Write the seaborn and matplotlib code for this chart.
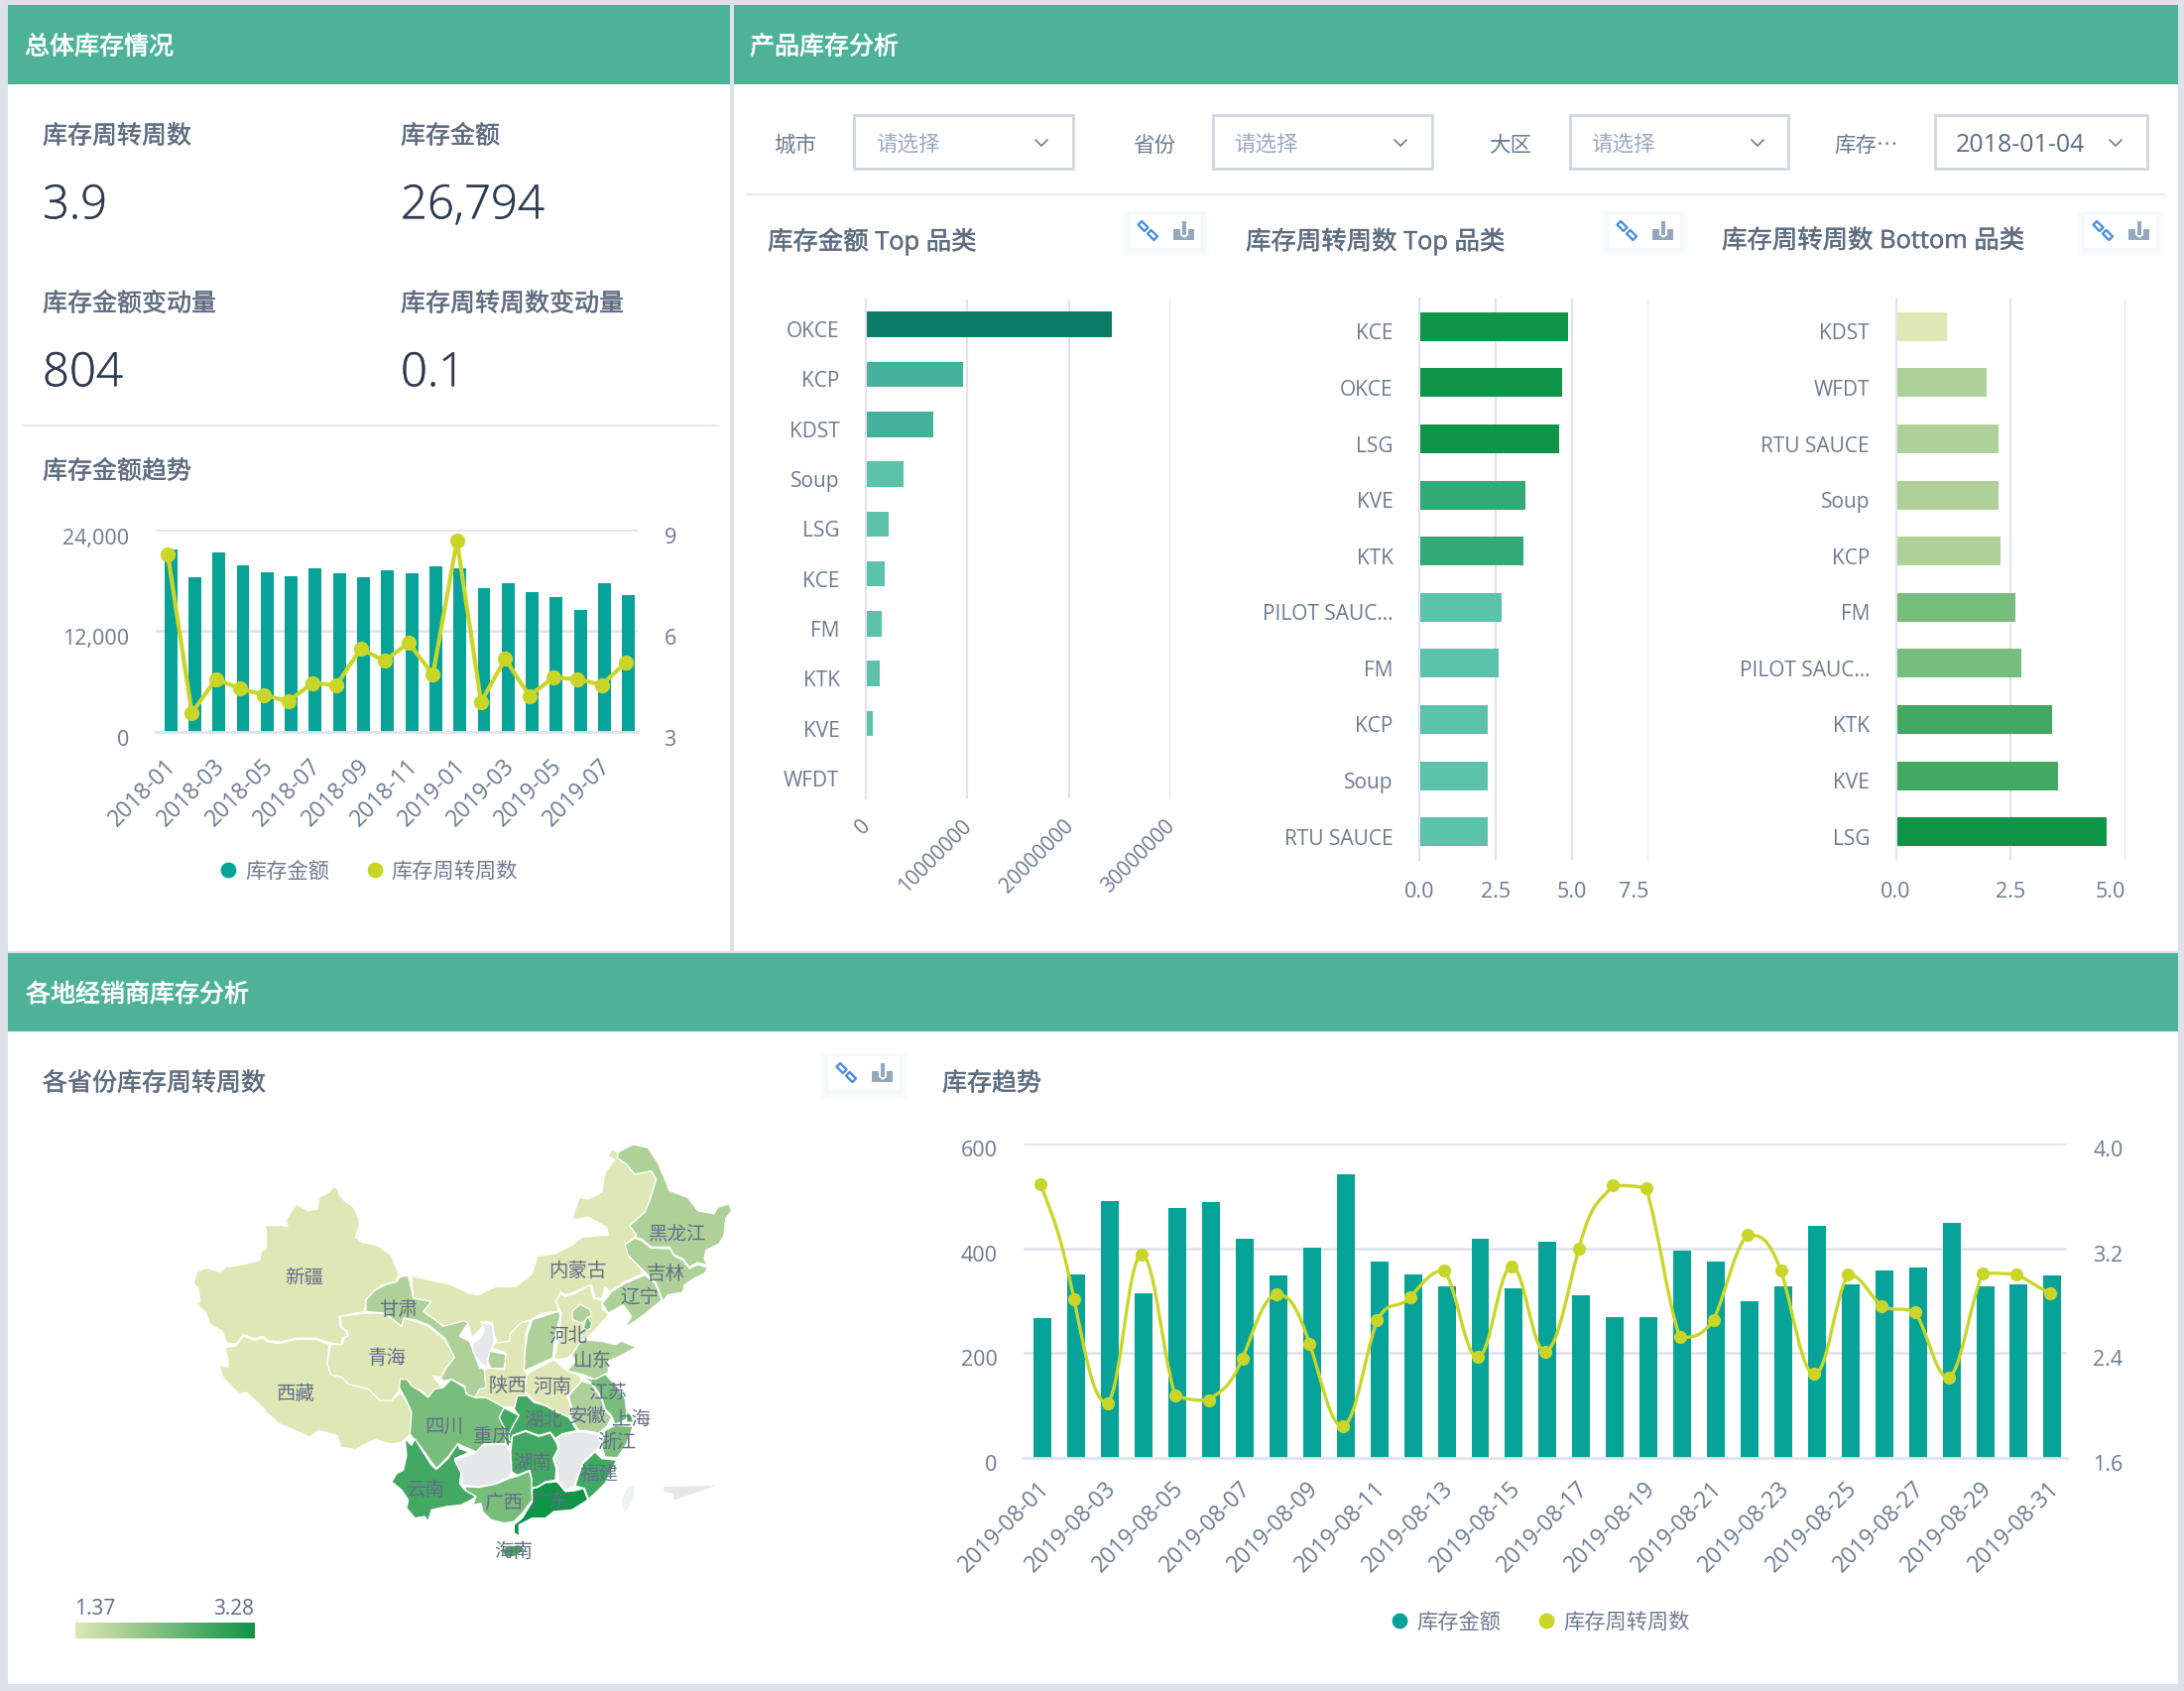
import numpy as np
import pandas as pd
import seaborn as sns
import matplotlib
matplotlib.use("Agg")
import matplotlib.pyplot as plt
import matplotlib.patheffects as pe
from matplotlib.patches import Rectangle, Polygon, PathPatch
from matplotlib.path import Path
from matplotlib.transforms import Affine2D
from matplotlib.colors import LinearSegmentedColormap

# ---------------- data ----------------
KPI_LABELS = ["库存周转周数", "库存金额", "库存金额变动量", "库存周转周数变动量"]
KPI_VALUES = ["3.9", "26,794", "804", "0.1"]

MONTH_LABELS = ["2018-01","2018-02","2018-03","2018-04","2018-05","2018-06","2018-07","2018-08","2018-09","2018-10",
                "2018-11","2018-12","2019-01","2019-02","2019-03","2019-04","2019-05","2019-06","2019-07","2019-08"]
MONTH_AMOUNT = [21600,18360,21300,19800,19000,18500,19400,18800,18360,19200,
                18800,19600,19400,17060,17700,16630,16000,14500,17700,16200]
MONTH_WEEKS = [8.26,3.56,4.57,4.28,4.10,3.90,4.45,4.39,5.46,5.11,
               5.64,4.70,8.67,3.89,5.17,4.07,4.61,4.57,4.39,5.06]

TOP_AMOUNT_CATS = ["OKCE","KCP","KDST","Soup","LSG","KCE","FM","KTK","KVE","WFDT"]
TOP_AMOUNT_VALS = [24200000,9570000,6650000,3740000,2280000,1820000,1550000,1370000,730000,20000]
TOP_AMOUNT_COLORS = ["#0b7d66","#45b19a","#45b19a","#5bc2ab","#5bc2ab","#5bc2ab","#5bc2ab","#5bc2ab","#5bc2ab","#5bc2ab"]

TOP_WEEK_CATS = ["KCE","OKCE","LSG","KVE","KTK","PILOT SAUC...","FM","KCP","Soup","RTU SAUCE"]
TOP_WEEK_VALS = [4.88,4.67,4.58,3.48,3.42,2.70,2.60,2.24,2.24,2.24]
TOP_WEEK_COLORS = ["#0e9548","#0e9548","#0e9548","#31aa78","#31aa78","#5bc2ab","#5bc2ab","#5bc2ab","#5bc2ab","#5bc2ab"]

BOT_WEEK_CATS = ["KDST","WFDT","RTU SAUCE","Soup","KCP","FM","PILOT SAUC...","KTK","KVE","LSG"]
BOT_WEEK_VALS = [1.11,1.98,2.24,2.24,2.28,2.60,2.74,3.41,3.53,4.58]
BOT_WEEK_COLORS = ["#dfe7b6","#aed19a","#aed19a","#aed19a","#aed19a","#79bd7d","#79bd7d","#43a862","#43a862","#0e9548"]

DAY_LABELS = ["2019-08-%02d" % d for d in range(1, 32)]
DAY_AMOUNT = [266,351,490,314,477,488,419,348,402,541,375,351,327,419,323,413,310,269,269,395,
              375,300,327,442,331,357,364,449,327,331,348]
DAY_WEEKS = [3.69,2.81,2.02,3.15,2.08,2.04,2.36,2.85,2.47,1.84,2.65,2.83,3.03,2.37,3.06,2.41,3.20,3.68,3.66,2.52,
             2.65,3.30,3.03,2.24,3.00,2.76,2.71,2.21,3.01,3.00,2.86]

PROVINCES = ["内蒙古","新疆","西藏","青海","甘肃","四川","云南","贵州","重庆","湖北","湖南","江西","广西","广东","福建",
             "浙江","安徽","江苏","山东","河南","陕西","河北","山西","宁夏","陇东","北京","天津","黑龙江","吉林","辽宁","海南","上海"]
PROVINCE_WEEKS = [1.5,1.5,1.5,1.5,1.9,2.3,2.7,np.nan,2.7,2.7,2.7,np.nan,2.3,3.28,2.7,
                  2.3,1.9,2.3,1.9,1.5,1.5,1.5,1.9,np.nan,1.9,1.9,2.3,1.9,1.9,1.9,2.7,2.7]
MAP_MIN, MAP_MAX = 1.37, 3.28

# ---------------- palette / style ----------------
PAGE = "#dde1ea"; HEADER = "#4db298"; TITLE = "#5f6d81"; AXIS_TXT = "#6d7b90"; BIG = "#2f3a52"
GRID = "#e0e4ed"; TEAL = "#07a398"; OLIVE = "#c9d629"
MAP_BINS = ["#dfe7b6","#aed19a","#79bd7d","#43a862","#0e9548"]; MAP_NULL = "#e6e7ea"

sns.set_theme(style="white")
plt.rcParams["font.family"] = ["Open Sans", "Noto Sans CJK SC", "DejaVu Sans"]
plt.rcParams["axes.unicode_minus"] = False

W, H = 2202, 1706
fig = plt.figure(figsize=(W/100, H/100), dpi=100, facecolor=PAGE)
bg = fig.add_axes([0, 0, 1, 1], zorder=0)
bg.set_xlim(0, W); bg.set_ylim(H, 0); bg.axis("off")

def px_axes(x0, y0, x1, y1):
    ax = fig.add_axes([x0/W, 1-y1/H, (x1-x0)/W, (y1-y0)/H], zorder=2)
    ax.patch.set_alpha(0)
    return ax

def shift(labels, dx=0, dy=0):
    for l in labels:
        l.set_transform(l.get_transform() + Affine2D().translate(dx, dy))

def txt(x, y, s, size=15, color=AXIS_TXT, ha="left", va="center", weight="normal", z=5, stroke=0, family=None):
    t = bg.text(x-1, y+3, s, fontsize=size, color=color, ha=ha, va=va, fontweight=weight, zorder=z)
    if family:
        t.set_family(family)
    if stroke:
        t.set_path_effects([pe.withStroke(linewidth=stroke, foreground=color)])
    return t

# panels
for x0, y0, x1, y1 in [(8, 6, 736, 960), (740, 6, 2196, 960), (8, 962, 2196, 1699)]:
    bg.add_patch(Rectangle((x0, y0), x1-x0, y1-y0, fc="white", ec="none", zorder=1))
for x0, y0, x1, y1, s, tx in [(8, 6, 736, 86, "总体库存情况", 26), (740, 6, 2196, 86, "产品库存分析", 757),
                              (8, 962, 2196, 1041, "各地经销商库存分析", 27)]:
    bg.add_patch(Rectangle((x0, y0), x1-x0, y1-y0, fc=HEADER, ec="none", zorder=2))
    txt(tx, (y0+y1)/2, s, size=18, color="white", stroke=0.5)

# KPIs
for (lx, ly, vy), lab, val in zip([(44, 136, 206), (405, 136, 206), (44, 305, 375), (405, 305, 375)], KPI_LABELS, KPI_VALUES):
    txt(lx, ly, lab, size=18, color=TITLE, stroke=0.35)
    txt(lx, vy, val, size=34, color=BIG, weight="light", stroke=0.3)
bg.plot([23, 724], [430, 430], color="#e6e9f0", lw=1.5, zorder=2)
txt(44, 474, "库存金额趋势", size=18, color=TITLE, stroke=0.35)

def legend(x1, t1, x2, t2, y):
    bg.scatter([x1], [y], s=130, color=TEAL, zorder=5, linewidths=0)
    txt(t1, y-2, "库存金额", size=15.3)
    bg.scatter([x2], [y], s=130, color=OLIVE, zorder=5, linewidths=0)
    txt(t2, y-2, "库存周转周数", size=15.3)

def smooth_path(xs, ys, k=0.3):
    n = len(xs); verts = [(xs[0], ys[0])]; codes = [Path.MOVETO]
    for i in range(n-1):
        pm, pn = max(i-1, 0), min(i+2, n-1)
        c1y = ys[i] + (ys[i+1]-ys[pm])*k
        c2y = ys[i+1] - (ys[pn]-ys[i])*k
        lo, hi = min(ys[i], ys[i+1]), max(ys[i], ys[i+1])
        verts += [(xs[i]+(xs[i+1]-xs[i])*0.4, np.clip(c1y, lo, hi)),
                  (xs[i+1]-(xs[i+1]-xs[i])*0.4, np.clip(c2y, lo, hi)), (xs[i+1], ys[i+1])]
        codes += [Path.CURVE4]*3
    return Path(verts, codes)

def combo(rect, labels, amount, weeks, ymax, yticks, yfmt, rlim, rticks, rfmt, offset, tick_len, lw, ms, smooth, ylab_dy, xsize):
    ax = px_axes(*rect)
    df = pd.DataFrame({"x": labels, "y": amount})
    sns.barplot(data=df, x="x", y="y", color=TEAL, width=0.53, ax=ax, saturation=1, edgecolor="none")
    for p in ax.patches:
        p.set_x(p.get_x()+offset)
    ax.set_xlim(-0.5, len(labels)-0.5); ax.set_ylim(0, ymax)
    ax.set_xlabel(""); ax.set_ylabel("")
    ax.set_yticks(yticks); ax.set_yticklabels(yfmt)
    ax.grid(axis="y", color=GRID, lw=2); ax.set_axisbelow(True)
    for s in ["top", "left", "right"]:
        ax.spines[s].set_visible(False)
    ax.spines["bottom"].set_color(GRID); ax.spines["bottom"].set_linewidth(2)
    ax.set_xticks(range(0, len(labels), 2))
    ax.set_xticklabels(labels[::2], rotation=45, ha="right", rotation_mode="anchor", va="top")
    ax.tick_params(axis="x", length=tick_len, width=1.5, color=GRID, labelsize=xsize, labelcolor=AXIS_TXT, pad=5)
    ax.tick_params(axis="y", length=0, labelsize=15.5, labelcolor=AXIS_TXT, pad=19)
    shift(ax.get_yticklabels(), 0, ylab_dy)
    shift(ax.get_xticklabels(), -3, 3)

    ax2 = ax.twinx(); ax2.patch.set_alpha(0)
    ax2.set_ylim(*rlim); ax2.set_yticks(rticks); ax2.set_yticklabels(rfmt)
    ax2.tick_params(axis="y", length=0, labelsize=15.5, labelcolor=AXIS_TXT, pad=19)
    shift(ax2.get_yticklabels(), 0, ylab_dy)
    for s in ax2.spines.values():
        s.set_visible(False)
    ax2.grid(False)
    xs = np.arange(len(labels)); d2 = pd.DataFrame({"x": xs, "y": weeks})
    if smooth:
        ax2.add_patch(PathPatch(smooth_path(xs, weeks), fc="none", ec=OLIVE, lw=lw))
        sns.scatterplot(data=d2, x="x", y="y", color=OLIVE, s=ms**2, linewidth=0, ax=ax2, zorder=4, clip_on=False, legend=False)
    else:
        sns.lineplot(data=d2, x="x", y="y", color=OLIVE, lw=lw, marker="o", markersize=ms, markeredgewidth=0, ax=ax2, clip_on=False)
    ax2.set_xlabel(""); ax2.set_ylabel("")
    ax.set_xlim(-0.5, len(labels)-0.5)

combo((157, 535, 643, 739), MONTH_LABELS, MONTH_AMOUNT, MONTH_WEEKS, 24000, [0, 12000, 24000], ["0", "12,000", "24,000"],
      (3, 9), [3, 6, 9], ["3", "6", "9"], 0.12, 13, 3, 11, False, -5.5, 16.5)
legend(230, 248, 378, 395, 878)

combo((1032, 1154, 2084, 1471), DAY_LABELS, DAY_AMOUNT, DAY_WEEKS, 600, [0, 200, 400, 600], ["0", "200", "400", "600"],
      (1.6, 4.0), [1.6, 2.4, 3.2, 4.0], ["1.6", "2.4", "3.2", "4.0"], 0.07, 10, 2.4, 9.5, True, -4, 16.5)
legend(1411, 1429, 1559, 1577, 1635)
txt(951, 1091, "库存趋势", size=18, color=TITLE, stroke=0.35)
txt(44, 1091, "各省份库存周转周数", size=18, color=TITLE, stroke=0.35)

# filters
bg.plot([753, 2182], [197, 197], color="#e6e9f0", lw=1.5, zorder=2)
for lab, lx, bx0, bx1, sx, s, cx, col in [
        ("城市", 802, 861, 1082, 883, "请选择", 1050, "#9aa9bb"),
        ("省份", 1164, 1223, 1444, 1244, "请选择", 1412, "#9aa9bb"),
        ("大区", 1523, 1583, 1803, 1604, "请选择", 1772, "#9aa9bb"),
        ("库存…", 1882, 1951, 2165, 1972, "2018-01-04", 2133, "#5e6d82")]:
    txt(lx+1, 143.5, lab, size=15.5, ha="center", family=["Noto Sans CJK SC", "DejaVu Sans"])
    bg.add_patch(Rectangle((bx0, 117), bx1-bx0, 54, fc="white", ec="#cfd7e3", lw=2, zorder=3))
    txt(sx+1, 143.5, s, size=15.5 if s == "请选择" else 18, color=col)
    bg.plot([cx-6, cx, cx+6], [142, 148, 142], color="#6d7b90", lw=1.2, zorder=5)

# chart titles and icons
for x, s in [(775, "库存金额 Top 品类"), (1257, "库存周转周数 Top 品类"), (1737, "库存周转周数 Bottom 品类")]:
    txt(x, 241.5, s, size=18.3, color=TITLE, stroke=0.35)

def icon(x0, y0):
    for i in range(4, 0, -1):
        bg.add_patch(Rectangle((x0-i*2, y0-i), 72+i*4, 34+i*3.5, fc="#dfe5ef", alpha=0.07, ec="none", zorder=2))
    bg.add_patch(Rectangle((x0, y0), 72, 34, fc="white", ec="none", zorder=3))
    for cx, cy in [(13.5, 12), (23, 21)]:
        bg.add_patch(Polygon([(x0+cx+5, y0+cy+1.4), (x0+cx+1.4, y0+cy+5), (x0+cx-5, y0+cy-1.4), (x0+cx-1.4, y0+cy-5)],
                             closed=True, fc="none", ec="#4a90e2", lw=1.7, zorder=4, joinstyle="round"))
    ic = [(44, 15), (51, 15), (51, 21), (55, 24), (59, 21), (59, 15), (65, 15), (65, 26), (44, 26)]
    bg.add_patch(Polygon([(x0+a, y0+b) for a, b in ic], closed=True, fc="#94a7bd", ec="none", zorder=4))
    bg.add_patch(Rectangle((x0+53, y0+7), 4, 14, fc="#94a7bd", ec="none", zorder=4))

for ix, iy in [(1139, 217), (1622, 217), (2102, 217), (835, 1066)]:
    icon(ix, iy)

def hbars(rect, cats, vals, colors, xlim, xticks, xtl, rotate=False):
    ax = px_axes(*rect)
    df = pd.DataFrame({"c": cats, "v": vals})
    sns.barplot(data=df, y="c", x="v", hue="c", palette=colors, dodge=False, legend=False, width=0.51, ax=ax,
                saturation=1, edgecolor="none", orient="h")
    ax.set_xlim(*xlim); ax.set_ylim(len(cats)-0.5, -0.5)
    ax.set_xlabel(""); ax.set_ylabel("")
    ax.set_xticks(xticks)
    ax.grid(axis="x", color=GRID, lw=1.5); ax.set_axisbelow(True)
    for s in ["top", "right", "bottom"]:
        ax.spines[s].set_visible(False)
    ax.spines["left"].set_color(GRID); ax.spines["left"].set_linewidth(1.5)
    ax.set_yticks(np.arange(-0.5, len(cats)+0.5))
    ax.set_yticklabels([""]*(len(cats)+1))
    ax.set_yticks(np.arange(len(cats)), cats, minor=True)
    ax.tick_params(axis="y", which="major", length=13, width=1.5, color=GRID)
    ax.tick_params(axis="y", which="minor", length=0, labelsize=15, labelcolor=AXIS_TXT, pad=19)
    shift(ax.get_yticklabels(minor=True), 0, -4)
    if rotate:
        ax.set_xticklabels(xtl, rotation=45, ha="right", va="top", rotation_mode="anchor")
        ax.tick_params(axis="x", length=0, labelsize=15, labelcolor=AXIS_TXT, pad=14)
        shift(ax.get_xticklabels(), -6, 3)
    else:
        ax.set_xticklabels(xtl)
        ax.tick_params(axis="x", length=0, labelsize=15.5, labelcolor=AXIS_TXT, pad=15)
        ax.get_xticklabels()[-1].set_ha("right")
    return ax

hbars((873, 303, 1180, 806), TOP_AMOUNT_CATS, TOP_AMOUNT_VALS, TOP_AMOUNT_COLORS, (0, 30000000),
      [0, 10000000, 20000000, 30000000], ["0", "10000000", "20000000", "30000000"], rotate=True)
hbars((1431, 302, 1662, 868), TOP_WEEK_CATS, TOP_WEEK_VALS, TOP_WEEK_COLORS, (0, 7.5), [0, 2.5, 5, 7.5], ["0.0", "2.5", "5.0", "7.5"])
hbars((1911.5, 302, 2143, 868), BOT_WEEK_CATS, BOT_WEEK_VALS, BOT_WEEK_COLORS, (0, 5), [0, 2.5, 5], ["0.0", "2.5", "5.0"])

# ---------------- map ----------------
def Z5(p): return [(185+x/3, 1180+y/3) for x, y in p]
def Z6(p): return [(440+x/3, 1150+y/3) for x, y in p]
def Z7(p): return [(380+x/3, 1350+y/3) for x, y in p]

MAP_SHAPES = {
 "内蒙古": Z6([(-75,412),(0,430),(40,437),(100,465),(125,470),(180,445),(240,445),(290,405),(305,352),(360,345),(410,320),(440,295),(520,288),(515,265),(460,235),(410,242),(432,175),(460,180),(500,160),(510,100),(540,60),(518,50),(530,30),(550,38),(548,55),(575,75),(600,105),(650,95),(665,120),(645,185),(630,220),(585,260),(605,290),(575,315),(580,350),(615,385),(625,405),(570,430),(525,460),(510,445),(505,465),(500,480),(480,480),(470,440),(420,460),(390,470),(375,460),(362,490),(370,520),(320,525),(285,545),(255,555),(225,585),(220,610),(185,615),(175,590),(170,555),(150,550),(140,565),(108,600),(95,555),(20,565),(-40,520),(-15,490),(-70,480)]),
 "新疆": Z5([(455,52),(468,60),(470,75),(490,98),(515,115),(530,150),(532,170),(520,205),(540,220),(590,232),(630,262),(640,290),(655,320),(650,322),(640,340),(600,350),(575,370),(552,395),(548,430),(470,445),(475,478),(492,490),(495,505),(480,510),(478,530),(440,524),(400,510),(345,510),(290,522),(255,518),(240,505),(215,512),(180,500),(160,528),(130,525),(118,490),(80,468),(68,435),(38,405),(50,400),(45,360),(30,345),(40,310),(70,298),(110,310),(130,295),(170,290),(230,275),(235,250),(250,240),(250,180),(243,170),(295,170),(315,172),(310,155),(340,105),(375,125),(405,120),(410,85),(440,70)]),
 "西藏": Z5([(180,505),(215,517),(240,510),(255,522),(290,527),(345,514),(400,514),(440,530),(435,590),(445,620),(480,630),(500,650),(560,665),(595,700),(630,700),(655,675),(680,710),(690,735),(688,800),(660,825),(630,832),(580,818),(540,835),(520,848),(475,840),(465,805),(410,790),(380,810),(350,795),(290,770),(250,735),(245,725),(190,675),(168,680),(120,630),(107,592),(135,598),(135,575),(125,540),(160,533)]),
 "青海": Z5([(475,445),(550,435),(605,435),(640,455),(660,475),(665,450),(700,460),(740,475),(790,515),(815,545),(820,570),(795,600),(780,630),(755,625),(770,645),(780,660),(760,670),(740,690),(720,668),(690,665),(655,650),(650,670),(630,700),(595,700),(560,665),(500,650),(480,630),(445,620),(435,590),(445,530),(482,530),(485,510),(498,505),(495,488),(478,478)]),
 "甘肃": Z5([(655,325),(680,322),(695,390),(750,400),(725,430),(760,455),(785,475),(850,458),(860,465),(835,505),(865,520),(875,545),(895,600),(910,605),(915,660),(895,685),(860,690),(850,655),(810,635),(790,640),(755,625),(780,630),(795,600),(820,570),(790,510),(740,470),(700,455),(665,450),(660,475),(610,435),(552,430),(552,395),(580,365),(610,350),(645,340)]),
 "四川": Z7([(70,125),(90,125),(105,145),(130,160),(155,180),(175,155),(200,150),(225,125),(265,150),(270,170),(295,180),(330,180),(385,210),(370,240),(385,270),(390,320),(325,320),(300,345),(280,335),(255,325),(245,320),(215,360),(180,395),(165,375),(130,325),(115,310),(100,290),(105,225),(90,190),(68,150)]),
 "云南": Z7([(85,305),(105,325),(115,305),(130,330),(165,385),(180,398),(215,365),(245,320),(250,335),(280,345),(235,365),(255,405),(250,440),(265,460),(300,480),(285,490),(255,505),(210,510),(165,520),(155,555),(145,540),(115,545),(90,515),(95,490),(75,460),(45,435),(60,410),(80,400),(90,355)]),
 "贵州": Z7([(300,345),(320,325),(385,320),(405,345),(408,405),(400,420),(360,440),(310,450),(260,445),(255,410),(235,370),(280,355)]),
 "重庆": Z7([(385,212),(430,235),(415,260),(400,290),(402,335),(390,320),(385,270),(370,240)]),
 "湖北": Z7([(425,175),(455,175),(475,195),(510,205),(545,225),(580,240),(605,280),(560,290),(540,305),(525,285),(490,295),(450,280),(410,295),(402,330),(400,290),(415,260),(430,235),(415,215)]),
 "湖南": Z7([(410,297),(450,283),(490,298),(525,288),(545,320),(548,335),(533,365),(542,395),(540,430),(510,435),(485,450),(465,455),(468,425),(462,400),(425,415),(408,405),(405,345)]),
 "江西": Z7([(540,305),(560,292),(605,285),(630,285),(665,292),(680,325),(655,345),(625,375),(610,410),(595,450),(570,460),(550,435),(545,395),(535,365),(550,335),(548,320)]),
 "广西": Z7([(265,450),(310,452),(360,442),(400,425),(425,418),(460,403),(468,425),(468,460),(470,490),(440,530),(415,555),(385,560),(345,550),(320,525),(315,500),(290,505),(300,480),(270,462)]),
 "广东": Z7([(470,455),(485,453),(510,438),(545,435),(570,465),(600,462),(625,455),(638,490),(590,520),(535,525),(510,545),(470,545),(430,565),(430,600),(415,590),(415,565),(440,545),(470,495)]),
 "福建": Z7([(625,378),(660,345),(680,365),(725,370),(705,410),(690,440),(660,470),(640,488),(628,455),(610,450),(600,448),(610,415)]),
 "浙江": Z7([(690,280),(720,265),(775,268),(755,320),(728,362),(690,360),(680,325)]),
 "安徽": Z7([(580,175),(620,130),(650,140),(680,185),(690,220),(710,240),(695,268),(670,288),(630,280),(610,280),(585,240),(590,215)]),
 "江苏": Z7([(615,115),(650,125),(690,110),(720,140),(750,180),(755,220),(770,240),(720,262),(710,235),(690,215),(680,180),(650,135)]),
 "山东": Z7([(575,100),(600,70),(590,50),(620,5),(680,10),(720,20),(740,10),(785,28),(735,55),(700,70),(700,105),(660,125),(620,110),(600,105)]),
 "河南": Z7([(455,108),(535,65),(575,100),(600,108),(615,118),(620,130),(585,165),(575,175),(590,215),(580,240),(545,222),(510,205),(475,190),(460,175),(445,160)]),
 "陕西": Z7([(360,15),(400,10),(405,-15),(435,-45),(465,-55),(450,-10),(445,100),(455,108),(445,160),(460,175),(425,175),(415,210),(385,210),(330,180),(298,180),(310,155),(330,150),(325,95),(345,90),(385,95),(390,45),(345,30)]),
 "河北": Z6([(375,465),(390,475),(420,465),(465,440),(475,480),(500,485),(502,512),(522,530),(490,565),(475,580),(455,600),(440,605),(410,650),(395,662),(355,665),(370,600),(378,525),(362,490)]),
 "山西": Z6([(290,545),(368,520),(375,530),(358,600),(352,660),(265,700),(268,640),(275,590)]),
 "宁夏": Z7([(315,-50),(350,-35),(355,10),(345,35),(335,70),(330,90),(310,70),(290,40),(290,15),(315,0),(325,-25)]),
 "陇东": Z7([(342,40),(390,50),(385,92),(345,92),(335,70)]),
 "北京": Z6([(410,520),(435,498),(465,515),(470,530),(440,555),(412,545)]),
 "天津": Z6([(457,535),(470,555),(467,570),(455,578),(445,570),(450,550)]),
 "黑龙江": Z6([(550,38),(595,15),(640,25),(670,70),(695,130),(705,155),(760,175),(790,215),(840,225),(850,205),(885,195),(893,215),(875,240),(870,290),(855,315),(815,335),(810,360),(820,380),(790,372),(765,385),(745,360),(720,350),(705,325),(650,325),(620,300),(600,295),(605,290),(585,260),(630,220),(645,185),(665,120),(650,95),(600,105),(575,75),(548,55)]),
 "吉林": Z6([(570,318),(600,298),(620,305),(650,328),(705,330),(720,352),(745,365),(765,390),(790,378),(822,388),(810,405),(780,420),(750,440),(745,462),(700,470),(685,490),(665,435),(635,405),(615,385),(580,350)]),
 "辽宁": Z6([(630,410),(662,435),(682,485),(640,520),(600,550),(570,568),(590,535),(565,500),(520,525),(502,495),(530,460),(570,435)]),
 "海南": Z7([(375,640),(400,630),(430,625),(450,640),(420,660),(390,665)]),
 "上海": Z7([(755,222),(770,235),(775,255),(755,255)]),
}
MAP_LABELS = {"新疆":(307,1287),"西藏":(298,1404),"甘肃":(402,1319),"青海":(390,1368),"四川":(448,1438),"内蒙古":(582,1280),
              "黑龙江":(683,1242),"吉林":(671,1283),"辽宁":(645,1307),"河北":(573,1346),"山东":(597,1371),"陕西":(512,1396),
              "河南":(557,1397),"江苏":(613,1403),"安徽":(592,1427),"上海":(636,1430),"浙江":(622,1453),"湖北":(548,1431),
              "重庆":(496,1447),"湖南":(537,1474),"福建":(604,1485),"云南":(429,1501),"广西":(508,1514),"广东":(554,1513),"海南":(518,1563)}

edges = np.linspace(MAP_MIN, MAP_MAX, 6)
def map_color(v):
    if np.isnan(v):
        return MAP_NULL
    return MAP_BINS[min(np.digitize(v, edges)-1, 4)]

for name, v in zip(PROVINCES, PROVINCE_WEEKS):
    bg.add_patch(Polygon(MAP_SHAPES[name], closed=True, fc=map_color(v), ec="white", lw=0.9, zorder=3, joinstyle="round"))
bg.add_patch(Polygon(Z7([(760,450),(780,445),(775,490),(750,530),(740,490)]), closed=True, fc="#f1f2f4", ec="none", zorder=3))
bg.add_patch(Polygon(Z7([(865,450),(1025,447),(900,490),(895,470),(870,465)]), closed=True, fc=MAP_NULL, ec="none", zorder=3))
for name, (x, y) in MAP_LABELS.items():
    txt(x+1, y-1, name, size=14, color="#626e88", ha="center")

cax = px_axes(76, 1637, 257, 1653)
grad = LinearSegmentedColormap.from_list("g", MAP_BINS)
cax.imshow(np.linspace(0, 1, 256)[None, :], cmap=grad, aspect="auto")
cax.axis("off")
txt(76, 1620, f"{MAP_MIN:.2f}", size=15, color=TITLE)
txt(257, 1620, f"{MAP_MAX:.2f}", size=15, color=TITLE, ha="right")

fig.savefig("out.png", dpi=100, facecolor=PAGE)
